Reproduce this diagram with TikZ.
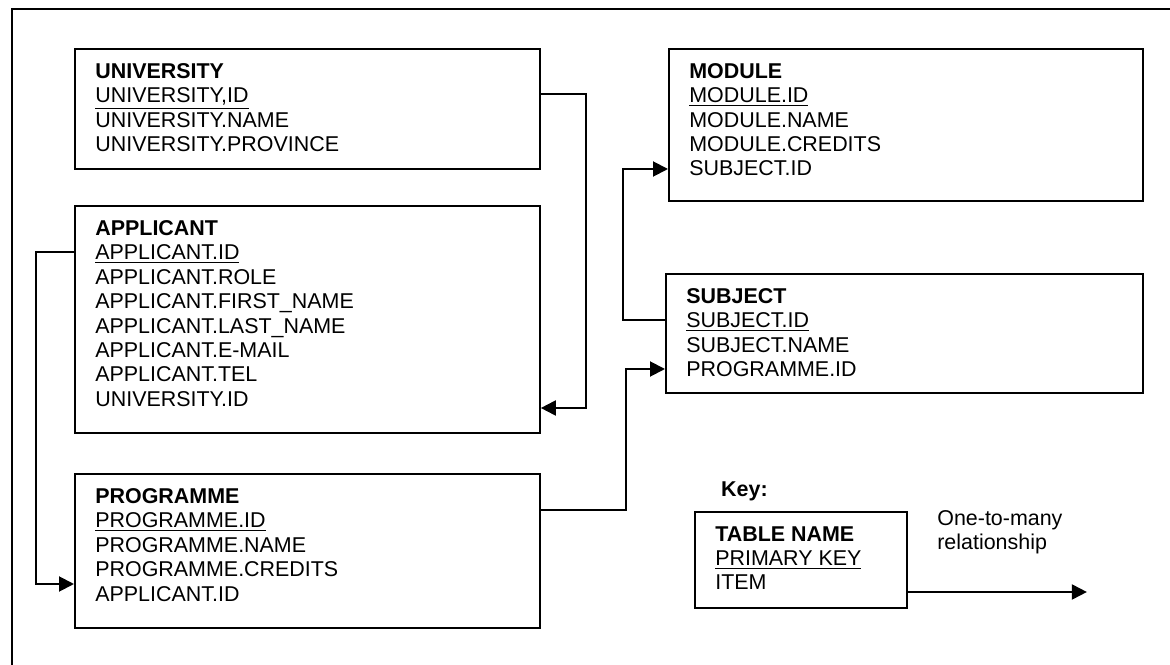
\documentclass[tikz,border=0pt]{standalone}
\usepackage{fontspec}
\setmainfont{Liberation Sans}
\usetikzlibrary{positioning,calc,arrows.meta}

\begin{document}
\begin{tikzpicture}[x=0.02cm,y=-0.02cm,font=\fontsize{12.2}{13.9}\selectfont,
  tablebox/.style={draw,line width=1.1pt,anchor=north west,inner sep=0pt},
  fields/.style={anchor=north west,align=left,inner sep=0pt,xshift=0.42cm,yshift=-0.3cm},
  link/.style={line width=1.1pt,-{Triangle[length=0.3cm,width=0.3cm]}}]
  \useasboundingbox (0,0) rectangle (1170,665);
  \draw[line width=1.1pt] (12,665) -- (12,9) -- (1170,9);

  \node[tablebox,minimum width=9.3cm,minimum height=2.4cm] (university) at (74,48) {};
  \node[fields] (universityfields) at (university.north west) {\textbf{UNIVERSITY}\\\underline{UNIVERSITY,ID}\\UNIVERSITY.NAME\\UNIVERSITY.PROVINCE};

  \node[tablebox,minimum width=9.3cm,minimum height=4.54cm] (applicant) at (74,205) {};
  \node[fields] (applicantfields) at (applicant.north west) {\textbf{APPLICANT}\\\underline{APPLICANT.ID}\\APPLICANT.ROLE\\APPLICANT.FIRST\_NAME\\APPLICANT.LAST\_NAME\\APPLICANT.E-MAIL\\APPLICANT.TEL\\UNIVERSITY.ID};

  \node[tablebox,minimum width=9.3cm,minimum height=3.08cm] (programme) at (74,473) {};
  \node[fields] (programmefields) at (programme.north west) {\textbf{PROGRAMME}\\\underline{PROGRAMME.ID}\\PROGRAMME.NAME\\PROGRAMME.CREDITS\\APPLICANT.ID};

  \node[tablebox,minimum width=9.48cm,minimum height=3.04cm] (module) at (668,48) {};
  \node[fields] (modulefields) at (module.north west) {\textbf{MODULE}\\\underline{MODULE.ID}\\MODULE.NAME\\MODULE.CREDITS\\SUBJECT.ID};

  \node[tablebox,minimum width=9.54cm,minimum height=2.38cm] (subject) at (665,273) {};
  \node[fields] (subjectfields) at (subject.north west) {\textbf{SUBJECT}\\\underline{SUBJECT.ID}\\SUBJECT.NAME\\PROGRAMME.ID};

  \node[anchor=base west] (keylabel) at (715,497) {\textbf{Key:}};
  \node[tablebox,minimum width=4.24cm,minimum height=1.92cm] (keybox) at (694,511) {};
  \node[fields] (keyfields) at (keybox.north west) {\textbf{TABLE NAME}\\\underline{PRIMARY KEY}\\ITEM};
  \node[anchor=north west,align=left,inner sep=0pt] (relation) at (937,510) {One-to-many\\relationship};

  \draw[link] ($(university.north east)+(0,46)$) -- ++(45,0) |- ($(applicant.north east)+(0,203)$);
  \draw[link] ($(applicant.north west)+(0,47)$) -- ++(-38,0) |- ($(programme.north west)+(0,111)$);
  \draw[link] ($(programme.north east)+(0,37)$) -- ++(85,0) |- ($(subject.north west)+(0,96)$);
  \draw[link] ($(subject.north west)+(0,47)$) -- ++(-42,0) |- ($(module.north west)+(0,121)$);
  \draw[link] ($(keybox.north east)+(0,81)$) -- ++(179,0);
\end{tikzpicture}
\end{document}
